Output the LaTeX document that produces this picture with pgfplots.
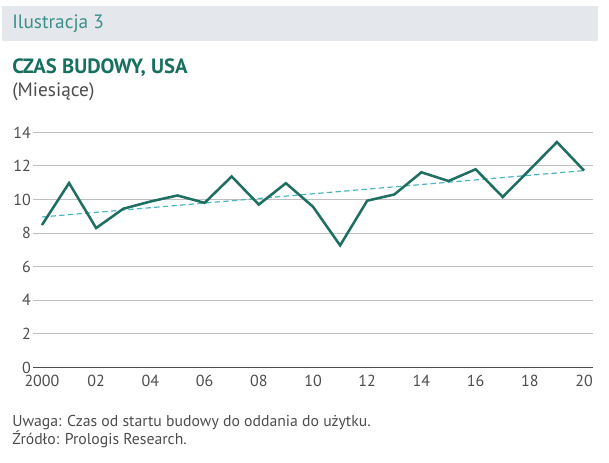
\documentclass[border=0pt]{standalone}
\usepackage{pgfplots}
\pgfplotsset{compat=1.18}
\usepackage{fontspec}
\setmainfont{PT Sans}
\definecolor{banner}{HTML}{E4E7EB}
\definecolor{teal1}{HTML}{1E6E62}
\definecolor{titlecol}{HTML}{17705F}
\definecolor{illu}{HTML}{3A8F8A}
\definecolor{trend}{HTML}{4DB5BE}
\definecolor{txt}{HTML}{4D4D4D}
\definecolor{grid}{HTML}{D9D9D9}
\begin{document}
\begin{tikzpicture}
\begin{scope}[x=0.75pt,y=0.75pt]
\path[use as bounding box] (0,0) rectangle (609,462);
\fill[banner] (2,421) rectangle (598,456);
\node[anchor=west,inner sep=0,text=illu,font=\fontsize{14.5pt}{16pt}\selectfont] at (12,438) {Ilustracja 3};
\node[anchor=base west,inner sep=0,text=titlecol,font=\fontsize{15.5pt}{17pt}\selectfont\bfseries] at (12,389) {CZAS BUDOWY, USA};
\node[anchor=base west,inner sep=0,text=txt,font=\fontsize{14.5pt}{16pt}\selectfont] at (12,366) {(Miesiące)};
\node[anchor=base west,inner sep=0,text=txt,font=\fontsize{11.8pt}{13pt}\selectfont] at (12,35.5) {Uwaga: Czas od startu budowy do oddania do użytku.};
\node[anchor=base west,inner sep=0,text=txt,font=\fontsize{11.8pt}{13pt}\selectfont] at (12,17.5) {Źródło: Prologis Research.};
\end{scope}
\begin{axis}[
  at={(24.75pt,70.875pt)}, anchor=south west,
  width=420pt, height=176.4pt, scale only axis,
  xmin=1999.67, xmax=2020.33, ymin=0, ymax=14,
  axis x line*=bottom, axis y line*=left,
  y axis line style={draw=none},
  x axis line style={draw=txt, line width=0.9pt, -},
  ymajorgrids, xmajorgrids=false, grid style={grid, line width=0.8pt},
  ytick={0,2,...,14},
  xtick={2000,2002,...,2020},
  xticklabels={2000,02,04,06,08,10,12,14,16,18,20},
  xtick style={draw=none}, ytick style={draw=none},
  major tick length=0pt,
  tick label style={text=txt, font=\fontsize{12pt}{14pt}\selectfont},
  /pgf/number format/assume math mode=true,
  xticklabel style={yshift=-2.5pt},
  yticklabel style={anchor=east, inner sep=0pt, xshift=-1.5pt},
  clip=false,
]
\addplot[trend, line width=0.9pt, dash pattern=on 4pt off 2.5pt] coordinates {(2000,8.96) (2020,11.72)};
\addplot[teal1, line width=1.9pt, line join=miter] coordinates {
(2000,8.48) (2001,10.98) (2002,8.30) (2003,9.45) (2004,9.88) (2005,10.24)
(2006,9.80) (2007,11.37) (2008,9.70) (2009,10.97) (2010,9.57) (2011,7.27)
(2012,9.93) (2013,10.30) (2014,11.62) (2015,11.10) (2016,11.80) (2017,10.15)
(2018,11.78) (2019,13.42) (2020,11.72)};
\end{axis}
\end{tikzpicture}
\end{document}
